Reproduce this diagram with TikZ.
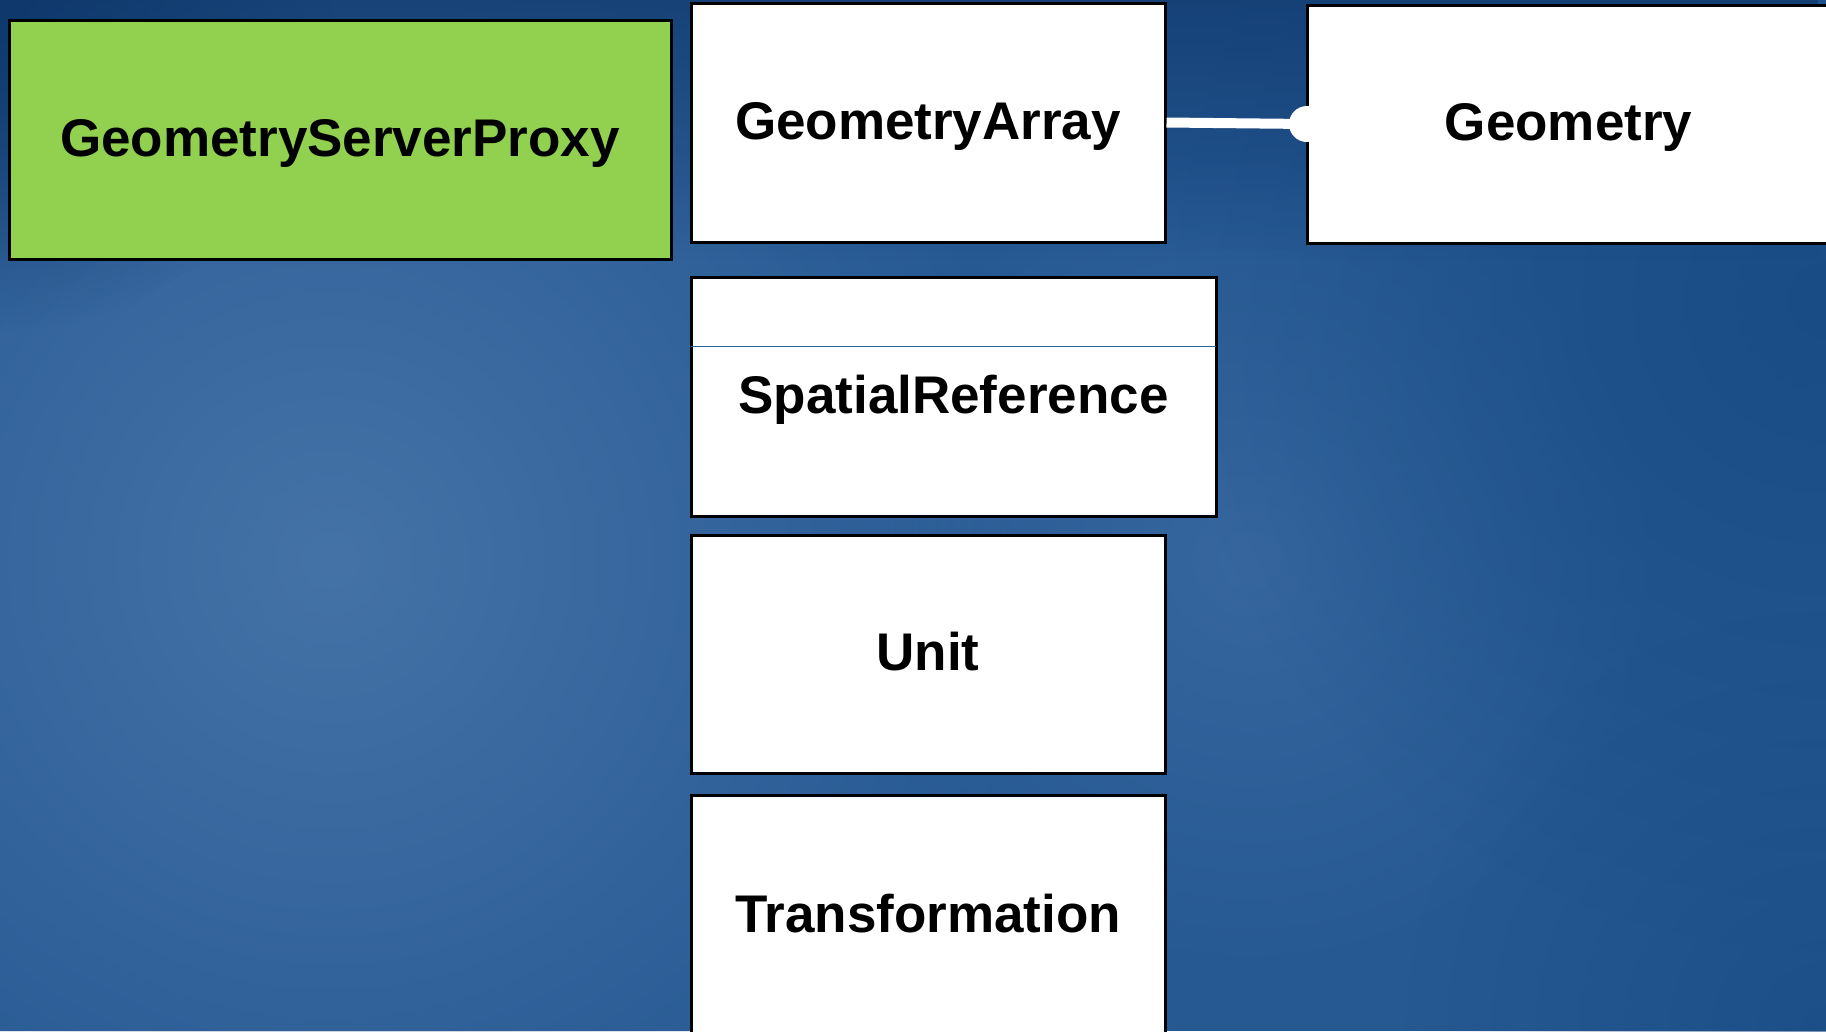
\documentclass[tikz,border=0pt]{standalone}
\usepackage{fontspec}
\setmainfont{Liberation Sans}
\usetikzlibrary{fadings}

\definecolor{bgbase}{RGB}{38,88,146}
\definecolor{bglight}{RGB}{72,118,170}
\definecolor{bgdark}{RGB}{14,56,108}
\definecolor{bgdeep}{RGB}{22,72,130}
\definecolor{proxygreen}{RGB}{146,208,80}
\definecolor{divblue}{RGB}{46,96,150}

\tikzfading[name=softspot, inner color=transparent!0, outer color=transparent!100]
\tikzfading[name=topdown, top color=transparent!0, bottom color=transparent!100]

\tikzset{
  classbox/.style={draw=black, line width=3pt, fill=white, inner sep=0pt,
    font=\fontsize{53}{60}\selectfont\bfseries, text=black,
    text height=38pt, text depth=5pt},
  proxybox/.style={classbox, fill=proxygreen},
  assoc/.style={draw=white, line width=10pt},
  assocdot/.style={fill=white},
  divider/.style={draw=divblue, line width=1.2pt}
}

\begin{document}
\begin{tikzpicture}[x=1pt, y=-1pt]
  % page frame and blue backdrop
  \useasboundingbox (0,0) rectangle (1826,1031);
  \fill[bgbase] (0,0) rectangle (1826,1031);
  \begin{scope}
    \clip (0,0) rectangle (1826,1031);
    \fill[bglight, path fading=softspot, fill opacity=0.9] (330,560) circle (720);
    \fill[bglight, path fading=softspot, fill opacity=0.5] (1250,560) circle (420);
    \fill[bgdeep, path fading=softspot, fill opacity=0.8] (1826,300) circle (650);
    \fill[bgdark, path fading=topdown, fill opacity=0.7] (0,0) rectangle (1826,260);
    \fill[bgdark, path fading=softspot, fill opacity=0.9] (0,0) circle (330);
    \fill[bgdeep, path fading=softspot, fill opacity=0.6] (1826,1031) circle (420);
  \end{scope}

  % classes
  \node[proxybox, minimum width=662pt, minimum height=239pt]
    (gsp) at (340,139.5) {GeometryServerProxy};
  \node[classbox, minimum width=474pt, minimum height=239pt]
    (ga) at (928,122.5) {GeometryArray};
  \node[classbox, minimum width=523pt, minimum height=238pt]
    (geom) at (1568.5,124) {Geometry};
  \node[classbox, minimum width=525pt, minimum height=239pt]
    (sr) at (953.5,396.5) {SpatialReference};
  \node[classbox, minimum width=474pt, minimum height=238pt]
    (unit) at (928,654) {Unit};
  \node[classbox, minimum width=474pt, minimum height=241pt]
    (trans) at (928,915.5) {Transformation};

  % compartment line of SpatialReference
  \draw[divider] ([xshift=1.5pt, yshift=-71pt]sr.north west)
    -- ([xshift=-1.5pt, yshift=-71pt]sr.north east);

  % association GeometryArray -- Geometry
  \coordinate (dot) at (1307,124);
  \draw[assoc] (ga.east) -- (dot);
  \fill[assocdot] (dot) circle (18);
\end{tikzpicture}
\end{document}
